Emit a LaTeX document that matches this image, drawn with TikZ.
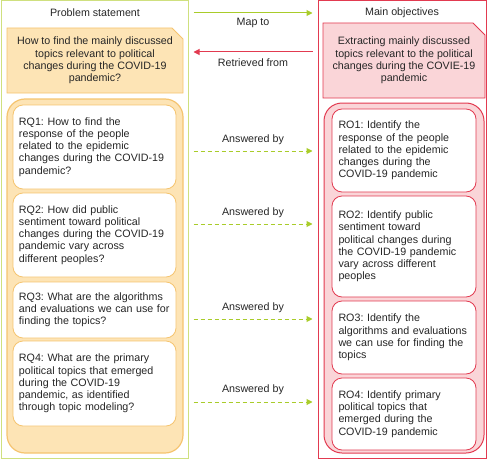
\documentclass[tikz,border=0pt]{standalone}
\usepackage{fontspec}
\setmainfont{Liberation Sans}
\usetikzlibrary{arrows.meta,calc}
\frenchspacing
\hyphenpenalty=10000
\definecolor{grn}{HTML}{A9CC2A}
\definecolor{grnlt}{HTML}{CFE07F}
\definecolor{rd}{HTML}{E23A50}
\definecolor{org}{HTML}{F5C46F}
\definecolor{orgfill}{HTML}{FDE4B5}
\definecolor{pinkfill}{HTML}{FAD5D8}
\tikzset{
  txt/.style={font={\fontsize{10.7}{12.2}\selectfont\frenchspacing}, inner sep=0pt, text=black!85},
  outerbox/.style={line width=1pt, inner sep=0pt},
  grpq/.style={draw=org, fill=orgfill, line width=1.2pt, rounded corners=18pt, inner sep=0pt},
  grpo/.style={draw=rd, fill=pinkfill, line width=1pt, rounded corners=18pt, inner sep=0pt},
  rqbox/.style={txt, draw=org, fill=white, line width=0.8pt, rounded corners=10pt, minimum width=163pt, text width=151pt, inner xsep=6pt, align=left},
  robox/.style={txt, draw=rd, fill=white, line width=0.8pt, rounded corners=10pt, minimum width=144pt, text width=131pt, inner xsep=6.5pt, align=left},
  maparrow/.style={draw=grn, line width=1pt, -{Triangle[length=6pt,width=6pt]}},
  retarrow/.style={draw=rd, line width=1pt, -{Triangle[length=6pt,width=6pt]}},
  ansarrow/.style={draw=grn, line width=1pt, dash pattern=on 4pt off 3pt, -{Triangle[length=6pt,width=6pt]}},
}
\begin{document}
\begin{tikzpicture}[x=1pt,y=-1pt]
\useasboundingbox (0,0) rectangle (490,460);
% outer frames
\node[outerbox, draw=grnlt, minimum width=187pt, minimum height=457pt] (ps) at (94.5,229.5) {};
\node[outerbox, draw=rd, minimum width=168pt, minimum height=457pt] (mo) at (402,229.5) {};
\node[txt] (pst) at (95,13) {Problem statement};
\node[txt] (mot) at (402,13) {Main objectives};
% top boxes with folded corner
\path[draw=org, fill=orgfill, line width=0.8pt] (7,28) -- (172,28) -- (183,39) -- (183,93) -- (7,93) -- cycle;
\node[txt, align=center] (pq) at (95,60.5) {How to find the mainly discussed\\topics relevant to political\\changes during the COVID-19\\pandemic?};
\path[draw=rd, fill=pinkfill, line width=0.8pt] (323,23) -- (473,23) -- (485,35) -- (485,98) -- (323,98) -- cycle;
\node[txt, align=center] (mq) at (404,60.5) {Extracting mainly discussed\\topics relevant to the political\\changes during the COVIE-19\\pandemic};
% groups
\node[grpq, minimum width=176pt, minimum height=354pt] (rqg) at (95,276) {};
\node[grpo, minimum width=160pt, minimum height=350pt] (rog) at (404,278) {};
% RQ boxes
\node[rqbox, minimum height=84pt] (rq1) at (94.5,147) {RQ1: How to find the\\response of the people\\related to the epidemic\\changes during the COVID-19\\pandemic?};
\node[rqbox, minimum height=84pt] (rq2) at (94.5,235) {RQ2: How did public\\sentiment toward political\\changes during the COVID-19\\pandemic vary across\\different peoples?};
\node[rqbox, minimum height=56pt] (rq3) at (94.5,310) {RQ3: What are the algorithms\\and evaluations we can use for\\finding the topics?};
\node[rqbox, minimum height=85pt] (rq4) at (94.5,383.5) {RQ4: What are the primary\\political topics that emerged\\during the COVID-19\\pandemic, as identified\\through topic modeling?};
% RO boxes
\node[robox, minimum height=83pt] (ro1) at (404,150.5) {RO1: Identify the\\response of the people\\related to the epidemic\\changes during the\\COVID-19 pandemic};
\node[robox, minimum height=101pt] (ro2) at (404,246.5) {RO2: Identify public\\sentiment toward\\political changes during\\the COVID-19 pandemic\\vary across different\\peoples};
\node[robox, minimum height=73pt] (ro3) at (404,337.5) {RO3: Identify the\\algorithms and evaluations\\we can use for finding the\\topics};
\node[robox, minimum height=72pt] (ro4) at (404,414) {RO4: Identify primary\\political topics that\\emerged during the\\COVID-19 pandemic};
% arrows
\coordinate (ym) at (0,13);
\coordinate (yr) at (0,52);
\coordinate (ya1) at (0,151);
\coordinate (ya2) at (0,224);
\coordinate (ya3) at (0,319);
\coordinate (ya4) at (0,402);
\draw[maparrow] ($(ps.east |- ym)+(5,0)$) -- node[txt, midway, yshift=-10pt] (lm) {Map to} ($(mo.west |- ym)+(-5,0)$);
\draw[retarrow] ($(mo.west |- yr)+(-5,0)$) -- node[txt, midway, yshift=-10.5pt] (lr) {Retrieved from} ($(ps.east |- yr)+(5,0)$);
\draw[ansarrow] ($(ps.east |- ya1)+(5,0)$) -- node[txt, midway, yshift=11pt] (la1) {Answered by} ($(mo.west |- ya1)+(-5,0)$);
\draw[ansarrow] ($(ps.east |- ya2)+(5,0)$) -- node[txt, midway, yshift=11pt] (la2) {Answered by} ($(mo.west |- ya2)+(-5,0)$);
\draw[ansarrow] ($(ps.east |- ya3)+(5,0)$) -- node[txt, midway, yshift=11pt] (la3) {Answered by} ($(mo.west |- ya3)+(-5,0)$);
\draw[ansarrow] ($(ps.east |- ya4)+(5,0)$) -- node[txt, midway, yshift=12pt] (la4) {Answered by} ($(mo.west |- ya4)+(-5,0)$);
\end{tikzpicture}
\end{document}
